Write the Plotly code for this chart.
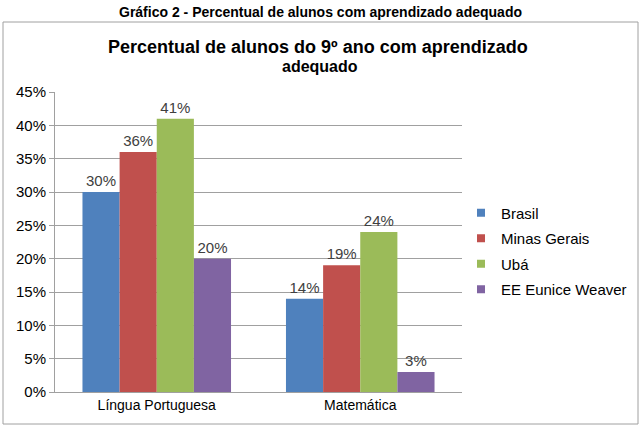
import plotly.graph_objects as go

categorias = ["Língua Portuguesa", "Matemática"]
series = ["Brasil", "Minas Gerais", "Ubá", "EE Eunice Weaver"]
valores = {
    "Brasil": [30, 14],
    "Minas Gerais": [36, 19],
    "Ubá": [41, 24],
    "EE Eunice Weaver": [20, 3],
}
cores = ["#4F81BD", "#C0504D", "#9BBB59", "#8064A2"]

FONTE = "Liberation Sans, Arial, sans-serif"

# area do grafico em pixels
L, R, T, B = 55, 179, 92, 35
W, H = 641, 427
pw, ph = W - L - R, H - T - B


def px_x(p):
    return (p - L) / pw


def px_y(p):
    return (H - B - p) / ph


fig = go.Figure()
for i, nome in enumerate(series):
    fig.add_trace(go.Bar(
        name=nome,
        x=categorias,
        y=[v / 100 for v in valores[nome]],
        marker_color=cores[i],
        marker_line_width=0,
        text=[f"{v}%" for v in valores[nome]],
        textposition="outside",
        textfont=dict(size=15, color="#404040"),
        cliponaxis=False,
        showlegend=False,
    ))
    # entrada de legenda com quadradinho pequeno
    fig.add_trace(go.Scatter(
        name=nome,
        x=[None], y=[None],
        mode="markers",
        marker=dict(symbol="square", size=8, color=cores[i]),
        legendgroup=nome,
    ))

fig.update_layout(
    width=W, height=H,
    margin=dict(l=L, r=R, t=T, b=B, autoexpand=False),
    paper_bgcolor="white",
    plot_bgcolor="white",
    font=dict(family=FONTE, color="#000000"),
    barmode="group",
    bargap=0.27,
    bargroupgap=0,
    legend=dict(
        x=px_x(461), y=px_y(251), xanchor="left", yanchor="middle",
        font=dict(size=15, family=FONTE),
        itemwidth=30, tracegroupgap=3,
        bgcolor="rgba(0,0,0,0)",
    ),
    xaxis=dict(
        showline=True, linecolor="#A0A0A0", linewidth=1,
        ticks="", tickfont=dict(size=14),
    ),
    yaxis=dict(
        range=[0, 0.45], dtick=0.05, tickformat=".0%",
        showgrid=True, gridcolor="#A0A0A0", gridwidth=1,
        showline=True, linecolor="#A0A0A0", linewidth=1,
        ticks="outside", ticklen=5, tickcolor="#A0A0A0",
        tickfont=dict(size=15), zeroline=False,
    ),
)

# titulo externo
fig.add_annotation(
    text="<b>Gráfico 2 - Percentual de alunos com aprendizado adequado</b>",
    xref="paper", yref="paper", x=px_x(320), y=px_y(12),
    xanchor="center", yanchor="middle", showarrow=False,
    font=dict(size=14, family=FONTE, color="#000000"),
)

# titulo do grafico (duas linhas)
fig.add_annotation(
    text="<b>Percentual de alunos do 9º ano com aprendizado</b>",
    xref="paper", yref="paper", x=px_x(318), y=px_y(47),
    xanchor="center", yanchor="middle", showarrow=False,
    font=dict(size=18, family=FONTE, color="#000000"),
)
fig.add_annotation(
    text="<b>adequado</b>",
    xref="paper", yref="paper", x=px_x(320), y=px_y(66),
    xanchor="center", yanchor="middle", showarrow=False,
    font=dict(size=16, family=FONTE, color="#000000"),
)

# moldura do grafico
fig.add_shape(
    type="rect", xref="paper", yref="paper",
    x0=px_x(3), x1=px_x(638), y0=px_y(424), y1=px_y(22),
    line=dict(color="#A0A0A0", width=1), fillcolor="rgba(0,0,0,0)",
    layer="below",
)

# tira a margem padrao do body para o grafico ocupar a janela toda
fig.write_html(
    "out.html",
    config={"displayModeBar": False},
    post_script="document.body.style.margin='0';",
)
